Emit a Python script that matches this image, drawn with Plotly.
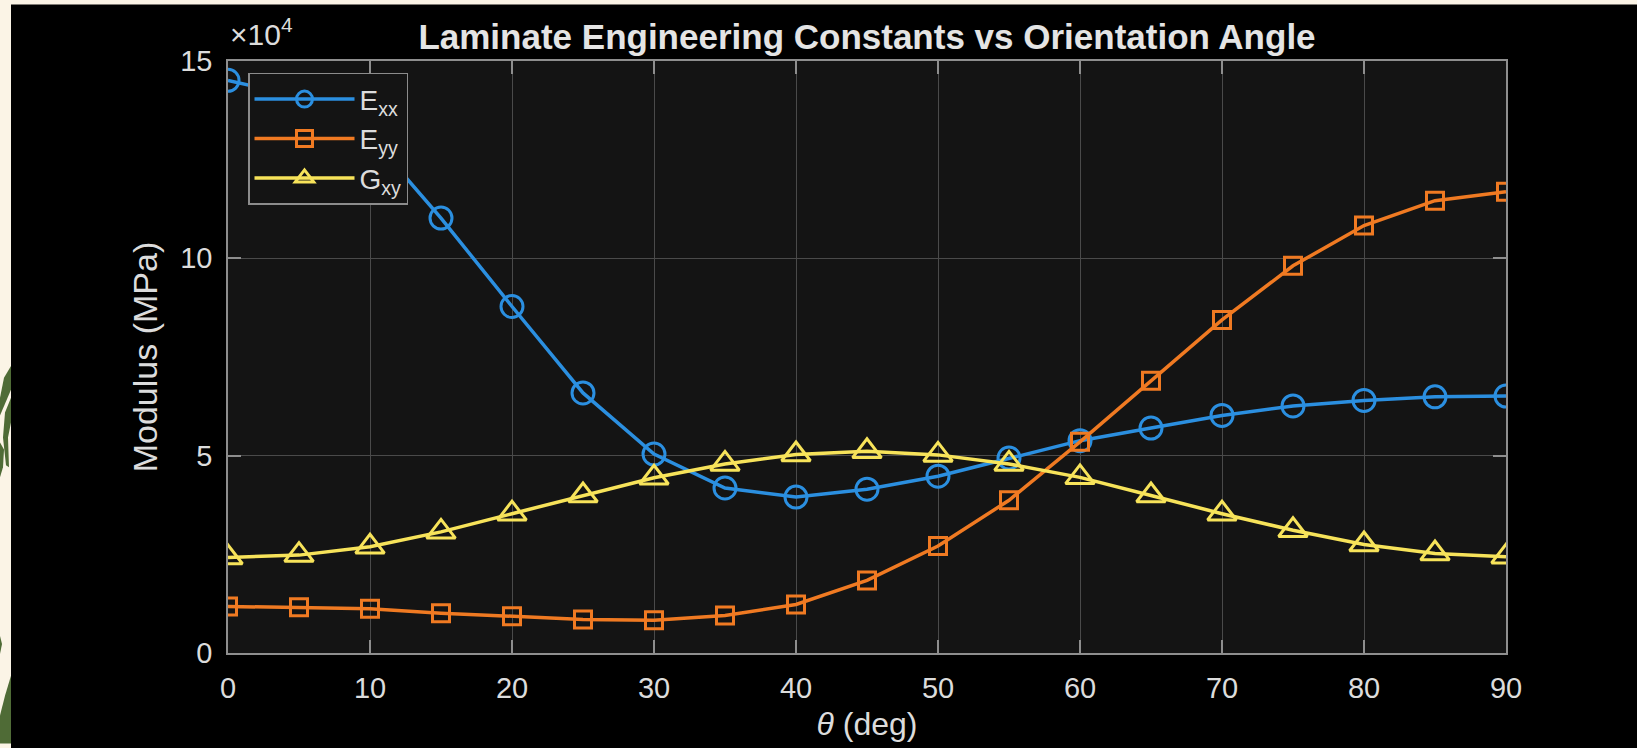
import plotly.graph_objects as go

# ---- data (MPa) ----
theta = [0, 5, 10, 15, 20, 25, 30, 35, 40, 45, 50, 55, 60, 65, 70, 75, 80, 85, 90]
Exx = [145100, 141000, 131000, 110200, 87800, 65900, 50400, 41800, 39500, 41500, 44800, 49400, 53800, 57000, 60200, 62600, 64000, 64900, 65100]
Eyy = [11800, 11600, 11200, 10100, 9300, 8500, 8300, 9500, 12300, 18400, 27100, 38700, 53500, 69000, 84400, 98100, 108300, 114600, 116900]
Gxy = [24200, 24800, 26900, 30700, 35300, 39900, 44400, 47900, 50300, 51100, 50200, 47900, 44500, 39900, 35300, 31100, 27500, 25200, 24400]
series_names = ["E<sub>xx</sub>", "E<sub>yy</sub>", "G<sub>xy</sub>"]
y_tickvals = [0, 50000, 100000, 150000]
y_ticktext = ["0", "5", "10", "15"]
x_tickvals = [0, 10, 20, 30, 40, 50, 60, 70, 80, 90]

W, H = 1637, 748
L, R, T, B = 228, 1506, 61, 657

def px(x):
    return (x - L) / (R - L)

def py(y):
    return (B - y) / (B - T)

FONT = "Liberation Sans, Arial, Helvetica, sans-serif"
TXT = "#dcdcdc"

fig = go.Figure()
styles = [
    dict(color="#2B8FE0", symbol="circle-open", size=22),
    dict(color="#F07A22", symbol="square-open", size=17),
    dict(color="#F7E35A", symbol="triangle-up-open", size=25),
]
for name, ys, st in zip(series_names, [Exx, Eyy, Gxy], styles):
    fig.add_trace(go.Scatter(
        x=theta, y=ys, name=name, mode="lines+markers",
        line=dict(color=st["color"], width=3.5),
        marker=dict(symbol=st["symbol"], size=st["size"], color=st["color"],
                    line=dict(color=st["color"], width=3)),
    ))

shapes = [
    # cream strips
    dict(type="rect", xref="paper", yref="paper", x0=px(-5), x1=px(11), y0=py(W + 5), y1=py(-5),
         fillcolor="#FBF4E6", line=dict(width=0), layer="above"),
    dict(type="rect", xref="paper", yref="paper", x0=px(-5), x1=px(W + 5), y0=py(4), y1=py(-5),
         fillcolor="#FBF4E6", line=dict(width=0), layer="above"),
]

def leaf(points):
    d = "M " + " L ".join(f"{px(a):.5f},{py(b):.5f}" for a, b in points) + " Z"
    return dict(type="path", xref="paper", yref="paper", path=d,
                fillcolor="#4F6B36", line=dict(width=0), layer="above")

shapes += [
    leaf([(11, 368), (4, 380), (0, 400), (0, 418), (11, 392)]),
    leaf([(11, 400), (5, 415), (3, 440), (6, 468), (9, 470), (8, 440), (11, 425)]),
    leaf([(0, 445), (4, 452), (3, 470), (0, 480)]),
    leaf([(0, 640), (2, 648), (0, 658)]),
    leaf([(11, 680), (5, 700), (0, 720), (0, 748), (11, 748)]),
]

fig.update_layout(
    width=W, height=H,
    margin=dict(l=L, r=W - R, t=T, b=H - B, pad=0),
    paper_bgcolor="#000000",
    plot_bgcolor="#141414",
    font=dict(family=FONT, color=TXT, size=28),
    title=dict(text="<b>Laminate Engineering Constants vs Orientation Angle</b>",
               x=(L + R) / 2 / W, xanchor="center", y=1 - 37 / H, yanchor="middle",
               font=dict(size=35, color="#e4e4e4", family=FONT)),
    showlegend=True,
    legend=dict(x=px(248), y=py(73), xanchor="left", yanchor="top",
                bgcolor="#141414", bordercolor="#8c8c8c", borderwidth=1.5,
                font=dict(size=28, color=TXT, family=FONT), itemwidth=100,
                tracegroupgap=0),
    shapes=shapes,
    annotations=[
        dict(text="×10<sup>4</sup>", xref="paper", yref="paper", x=px(228), y=py(32),
             xanchor="left", yanchor="middle", showarrow=False,
             font=dict(size=30, color=TXT, family=FONT)),
    ],
)

axis_common = dict(
    showline=True, linecolor="#8e8e8e", linewidth=1.5, mirror="ticks",
    ticks="inside", ticklen=13, tickwidth=1.5, tickcolor="#8e8e8e",
    showgrid=True, gridcolor="#4a4a4a", gridwidth=1, zeroline=False,
    tickfont=dict(size=29, color=TXT, family=FONT),
)
fig.update_xaxes(range=[0, 90], tickvals=x_tickvals, ticklabelstandoff=8,
                 title=dict(text="<i>θ</i> (deg)", font=dict(size=32, color=TXT, family=FONT), standoff=10),
                 **axis_common)
fig.update_yaxes(range=[0, 150000], tickvals=y_tickvals, ticktext=y_ticktext, ticklabelstandoff=8,
                 title=dict(text="Modulus (MPa)", font=dict(size=34, color=TXT, family=FONT), standoff=12),
                 **axis_common)

fig.write_html(
    "out.html",
    config={"displayModeBar": False},
    post_script="document.body.style.margin='0';document.body.style.background='#FBF4E6';",
)
